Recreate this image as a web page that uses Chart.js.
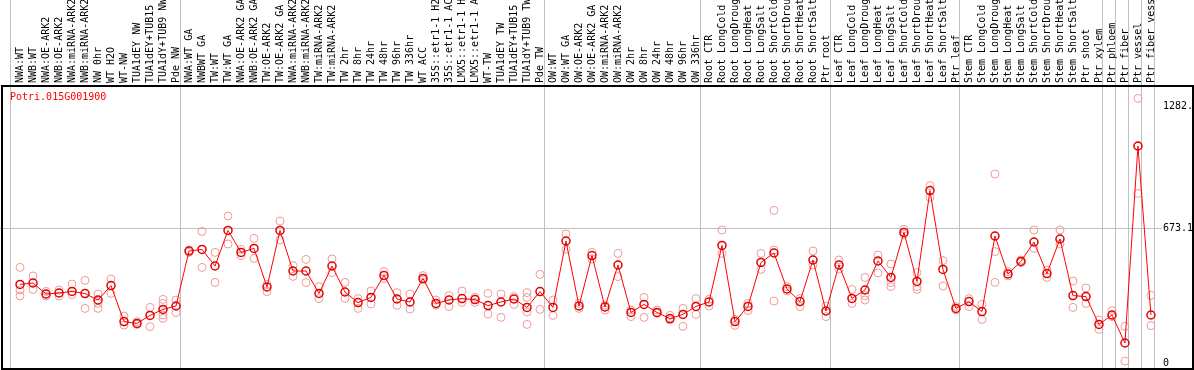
<!DOCTYPE html>
<html>
<head>
<meta charset="utf-8">
<script src="https://cdn.jsdelivr.net/npm/chart.js@4.4.1/dist/chart.umd.min.js"></script>
<style>
  html, body { margin: 0; padding: 0; background: #fff; }
</style>
</head>
<body>
<canvas id="chart" width="1194" height="370"></canvas>
<script>
"use strict";

const geneName = "Potri.015G001900";

const sampleLabels = [
	"NWA:WT", "NWB:WT", "NWA:OE-ARK2", "NWB:OE-ARK2", "NWA:miRNA-ARK2", "NWB:miRNA-ARK2", "NW 0hr", "WT H2O", "WT-NW",
	"TUA1dEY NW", "TUA1dEY+TUB15", "TUA1dY+TUB9 NW", "Pde NW",
	"NWA:WT GA", "NWBWT GA", "TW:WT", "TW:WT GA", "NWA:OE-ARK2 GA", "NWB:OE-ARK2 GA", "TW:OE-ARK2", "TW:OE-ARK2 GA",
	"NWA:miRNA-ARK2", "NWB:miRNA-ARK2", "TW:miRNA-ARK2", "TW:miRNA-ARK2", "TW 2hr", "TW 8hr", "TW 24hr", "TW 48hr",
	"TW 96hr", "TW 336hr", "WT ACC", "35S::etr1-1 H2", "35S::etr1-1 AC", "LMX5::etr1-1 H", "LMX5::etr1-1 A", "WT-TW",
	"TUA1dEY TW", "TUA1dEY+TUB15", "TUA1dY+TUB9 TW", "Pde TW",
	"OW:WT", "OW:WT GA", "OW:OE-ARK2", "OW:OE-ARK2 GA", "OW:miRNA-ARK2", "OW:miRNA-ARK2", "OW 2hr", "OW 8hr", "OW 24hr",
	"OW 48hr", "OW 96hr", "OW 336hr",
	"Root CTR", "Root LongCold", "Root LongDroug", "Root LongHeat", "Root LongSalt", "Root ShortCold", "Root ShortDrou",
	"Root ShortHeat", "Root ShortSalt", "Ptr root",
	"Leaf CTR", "Leaf LongCold", "Leaf LongDroug", "Leaf LongHeat", "Leaf LongSalt", "Leaf ShortCold", "Leaf ShortDrou",
	"Leaf ShortHeat", "Leaf ShortSalt", "Ptr leaf",
	"Stem CTR", "Stem LongCold", "Stem LongDroug", "Stem LongHeat", "Stem LongSalt", "Stem ShortCold", "Stem ShortDrou",
	"Stem ShortHeat", "Stem ShortSalt", "Ptr shoot",
	"Ptr xylem", "Ptr phloem", "Ptr fiber", "Ptr vessel", "Ptr fiber vess"
];

// samples per separator block (grey vertical lines)
const groupSizes = [13, 28, 12, 10, 10, 11, 1, 1, 1, 1];

const meanValues = [
	393, 400, 345, 350, 358, 347, 315, 387, 207, 198,
	238, 268, 285, 560, 568, 485, 663, 553, 573, 380,
	663, 460, 460, 348, 485, 355, 302, 328, 438, 320,
	305, 423, 298, 315, 322, 317, 287, 305, 320, 278,
	357, 278, 610, 285, 537, 280, 490, 253, 293, 253,
	222, 243, 283, 305, 588, 207, 283, 503, 550, 370,
	307, 515, 260, 490, 323, 365, 510, 428, 653, 408,
	862, 468, 273, 307, 257, 635, 445, 508, 605, 447,
	620, 337, 332, 193, 240, 100, 1085, 240
];

const rep1 = [
	478, 435, 358, 365, 395, 413, 345, 420, 235, 207,
	278, 318, 315, 565, 658, 553, 735, 568, 623, 393,
	710, 487, 518, 382, 520, 403, 322, 360, 457, 352,
	345, 437, 315, 337, 360, 303, 348, 345, 293, 352,
	443, 315, 645, 298, 553, 290, 548, 265, 328, 265,
	238, 273, 322, 318, 665, 218, 298, 548, 763, 382,
	323, 560, 285, 515, 368, 428, 540, 495, 668, 452,
	887, 512, 282, 322, 293, 945, 457, 515, 665, 465,
	665, 410, 375, 215, 262, 183, 1323, 338
];

const rep2 = [
	365, 368, 335, 335, 342, 273, 298, 348, 190, 193,
	182, 298, 252, 553, 478, 403, 595, 537, 523, 357,
	615, 433, 402, 322, 452, 323, 273, 295, 422, 288,
	270, 415, 290, 282, 303, 328, 245, 228, 332, 328,
	268, 238, 568, 273, 520, 265, 432, 232, 228, 248,
	215, 183, 243, 285, 548, 188, 262, 468, 565, 360,
	282, 490, 232, 470, 298, 337, 450, 402, 643, 382,
	828, 385, 265, 282, 218, 557, 435, 502, 573, 428,
	595, 278, 298, 168, 232, 10, 848, 187
];

const rep3 = [
	335, null, null, null, null, null, 273, null, null, null,
	null, 240, null, null, null, null, null, null, null, null,
	null, null, null, null, null, null, null, null, null, null,
	null, null, null, null, null, null, null, null, null, 255,
	null, null, null, null, null, null, null, null, null, null,
	null, null, null, null, null, null, null, null, 310, null,
	null, null, null, null, null, 315, null, 382, null, 368,
	null, null, null, null, null, 403, null, null, null, null,
	null, null, null, null, null, null, 1084, null
];

const rep4 = [
	null, null, null, null, null, null, null, null, null, null,
	null, 223, null, null, null, null, null, null, null, null,
	null, null, null, null, null, null, null, null, null, null,
	null, null, null, null, null, null, null, null, null, 193,
	null, null, null, null, null, null, null, null, null, null,
	null, null, null, null, null, null, null, null, null, null,
	null, null, null, null, null, null, null, null, null, null,
	null, null, null, null, null, null, null, null, null, null,
	null, null, null, null, null, null, null, null
];

const yTicks = [0, 673.1, 1282];
const yTickLabels = ["0", "673.1", "1282."];

// separator positions: one before the first sample, then just after each block
let separators = [-0.77];
let count = 0;
for (const size of groupSizes) {
	count += size;
	separators.push(count - 1 + 0.31);
}

let repPoints = [];
for (const reps of [rep1, rep2, rep3, rep4]) {
	reps.forEach(function (v, i) {
		if (v !== null) repPoints.push({ x: i, y: v });
	});
}

const X_MIN = -1.54;
const X_MAX = 87.85;
const monoFont = { family: "'DejaVu Sans Mono', monospace", size: 10 };

const framePlugin = {
	id: "frame",
	afterDraw(chart) {
		const ctx = chart.ctx;
		const a = chart.chartArea;
		ctx.save();
		ctx.strokeStyle = "#000";
		ctx.lineWidth = 2;
		ctx.strokeRect(2, a.top + 1, chart.width - 3, a.bottom - a.top);
		ctx.restore();
	}
};

const geneLabel = {
	id: "geneLabel",
	afterDraw(chart) {
		const ctx = chart.ctx;
		const a = chart.chartArea;
		ctx.save();
		ctx.font = "10px 'DejaVu Sans Mono', monospace";
		ctx.fillStyle = "#ff0000";
		ctx.textBaseline = "middle";
		ctx.fillText(geneName, a.left + 10, a.top + 12);
		ctx.restore();
	}
};

new Chart(document.getElementById("chart"), {
	type: "line",
	data: {
		datasets: [
			{
				label: geneName,
				data: meanValues.map((v, i) => ({ x: i, y: v })),
				borderColor: "#ff0000",
				borderWidth: 1,
				pointRadius: 4,
				pointBorderWidth: 1.5,
				pointBorderColor: "#e00000",
				pointBackgroundColor: "rgba(0,0,0,0)",
				tension: 0
			},
			{
				label: "replicates",
				type: "scatter",
				data: repPoints,
				showLine: false,
				pointRadius: 4,
				pointBorderWidth: 1,
				borderColor: "#f09a9a",
				backgroundColor: "rgba(0,0,0,0)"
			}
		]
	},
	options: {
		responsive: false,
		animation: false,
		devicePixelRatio: 1,
		layout: { autoPadding: false, padding: { left: 0, right: 0, top: 0, bottom: 2 } },
		plugins: {
			legend: { display: false },
			tooltip: { enabled: false },
			title: { display: false }
		},
		scales: {
			x: {
				type: "linear",
				position: "top",
				weight: 0,
				min: X_MIN,
				max: X_MAX,
				afterBuildTicks: (s) => { s.ticks = separators.map(v => ({ value: v })); },
				afterFit: (s) => { s.height = 0; s.paddingLeft = 0; s.paddingRight = 0; },
				ticks: { display: false },
				grid: { color: "#c0c0c0", lineWidth: 1, tickLength: 85, drawTicks: true },
				border: { display: false }
			},
			xl: {
				type: "linear",
				position: "top",
				weight: 1,
				min: X_MIN,
				max: X_MAX,
				afterBuildTicks: (s) => { s.ticks = sampleLabels.map((_, i) => ({ value: i })); },
				afterFit: (s) => { s.height = 85; s.paddingLeft = 0; s.paddingRight = 0; },
				ticks: {
					autoSkip: false,
					minRotation: 90,
					maxRotation: 90,
					padding: 2,
					labelOffset: 12,
					color: "#000",
					font: monoFont,
					callback: (v) => sampleLabels[v]
				},
				grid: { display: false, drawTicks: false },
				border: { display: false }
			},
			y: {
				type: "linear",
				position: "right",
				min: -25,
				max: 1390,
				afterBuildTicks: (s) => { s.ticks = yTicks.map(v => ({ value: v })); },
				afterFit: (s) => { s.width = 32; s.paddingTop = 0; s.paddingBottom = 0; },
				ticks: {
					padding: 1,
					color: "#000",
					font: monoFont,
					callback: (v) => yTickLabels[yTicks.indexOf(v)]
				},
				grid: {
					drawTicks: false,
					color: (c) => (c.tick && c.tick.value === 673.1 ? "#c0c0c0" : "rgba(0,0,0,0)")
				},
				border: { display: false }
			}
		}
	},
	plugins: [framePlugin, geneLabel]
});
</script>
</body>
</html>
